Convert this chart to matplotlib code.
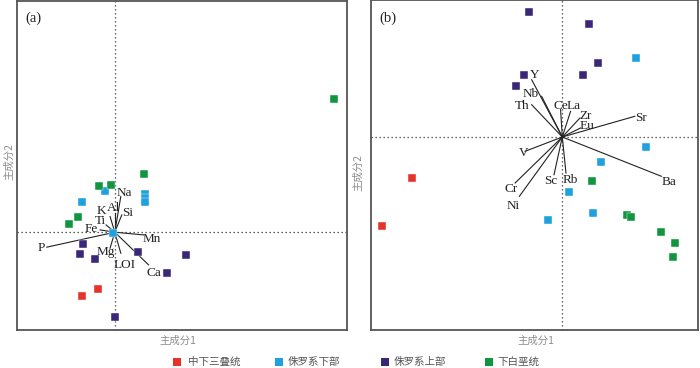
import matplotlib
matplotlib.use("Agg")
import matplotlib.pyplot as plt

plt.rcParams['font.family'] = ['Liberation Serif', 'Noto Sans CJK SC', 'DejaVu Sans']

# ---------------- colours ----------------
C_RED = '#e5332a'
C_BLUE = '#1ea1dc'
C_PURPLE = '#3b2778'
C_GREEN = '#11953f'

groups = ['中下三叠统', '侏罗系下部', '侏罗系上部', '下白垩统']
group_colors = [C_RED, C_BLUE, C_PURPLE, C_GREEN]

# ---------------- panel (a): major elements ----------------
a_red_x = [-0.17, -0.327]
a_red_y = [-0.57, -0.644]
a_blue_x = [-0.093, -0.323, 0.30, 0.297, 0.297, -0.013]
a_blue_y = [0.41, 0.303, 0.38, 0.34, 0.30, -0.007]
a_purple_x = [-0.313, -0.347, -0.20, 0.233, 0.716, 0.526, 0.007]
a_purple_y = [-0.123, -0.22, -0.267, -0.20, -0.233, -0.41, -0.85]
a_green_x = [2.186, 0.293, -0.153, -0.033, -0.363, -0.453]
a_green_y = [1.333, 0.58, 0.46, 0.473, 0.15, 0.087]

a_vars = ['P', 'Mn', 'Ca', 'LOI', 'Mg', 'Fe', 'Ti', 'K', 'Al', 'Na', 'Si']
a_vec_x = [-0.68, 0.287, 0.337, 0.06, -0.047, -0.147, -0.087, -0.047, 0.0, 0.06, 0.07]
a_vec_y = [-0.15, -0.027, -0.327, -0.21, -0.16, 0.023, 0.073, 0.157, 0.19, 0.357, 0.173]
a_lab_x = [-0.73, 0.37, 0.396, 0.103, -0.087, -0.24, -0.14, -0.135, -0.01, 0.093, 0.13]
a_lab_y = [-0.157, -0.07, -0.404, -0.327, -0.20, 0.036, 0.113, 0.213, 0.245, 0.39, 0.196]

# ---------------- panel (b): trace elements ----------------
b_red_x = [-1.503, -1.81]
b_red_y = [-0.407, -0.89]
b_blue_x = [0.737, 0.837, 0.383, 0.067, 0.31, -0.147]
b_blue_y = [0.79, -0.097, -0.25, -0.547, -0.76, -0.827]
b_purple_x = [-0.33, 0.27, 0.353, 0.207, -0.38, -0.463]
b_purple_y = [1.247, 1.13, 0.74, 0.62, 0.62, 0.507]
b_green_x = [0.30, 0.653, 0.693, 0.99, 1.133, 1.113]
b_green_y = [-0.44, -0.777, -0.803, -0.953, -1.06, -1.197]

b_vars = ['Y', 'Nb', 'Th', 'Ce', 'La', 'Zr', 'Eu', 'Sr', 'Ba', 'Rb', 'Sc', 'V', 'Cr', 'Ni']
b_vec_x = [-0.307, -0.207, -0.307, -0.017, 0.083, 0.177, 0.183, 0.727, 0.993, 0.037, -0.083, -0.373, -0.473, -0.43]
b_vec_y = [0.573, 0.407, 0.323, 0.273, 0.257, 0.19, 0.09, 0.207, -0.393, -0.36, -0.377, -0.143, -0.46, -0.593]
b_lab_x = [-0.28, -0.32, -0.406, -0.016, 0.117, 0.237, 0.25, 0.784, 1.07, 0.084, -0.116, -0.39, -0.516, -0.49]
b_lab_y = [0.623, 0.433, 0.313, 0.313, 0.306, 0.213, 0.106, 0.19, -0.454, -0.427, -0.444, -0.16, -0.52, -0.687]

W, H = 700.0, 368.0
fig = plt.figure(figsize=(W / 100, H / 100), dpi=100)
axa = fig.add_axes([16.7 / W, 38 / H, 330.3 / W, 329.3 / H])
axb = fig.add_axes([370.7 / W, 38 / H, 327.3 / W, 330 / H])

FRAME = '#555555'
AXLAB = '#8c8c8c'


def draw_panel(ax, pts, vars_, vx, vy, lx, ly, xlim, ylim, tag):
    ax.set_xlim(*xlim)
    ax.set_ylim(*ylim)
    ax.axhline(0, color='#333333', lw=0.9, ls=(0, (1, 2.2)), zorder=1)
    ax.axvline(0, color='#333333', lw=0.9, ls=(0, (1, 2.2)), zorder=1)
    for (xs, ys), col in zip(pts, group_colors):
        ax.scatter(xs, ys, marker='s', s=36, color=col, edgecolors='white',
                   linewidths=0.3, zorder=3)
    for name, dx, dy, tx, ty in zip(vars_, vx, vy, lx, ly):
        ax.plot([0, dx], [0, dy], color='#222222', lw=0.8, zorder=2)
        ax.text(tx, ty, name, ha='center', va='center', fontsize=9.5,
                color='#222222', zorder=4)
    ax.set_xticks([])
    ax.set_yticks([])
    for sp in ax.spines.values():
        sp.set_color(FRAME)
        sp.set_linewidth(1.3)
    ax.text(8.5 / 330, 1 - 18 / 330, tag, transform=ax.transAxes, fontsize=10.5,
            ha='left', va='center', color='#222222')


draw_panel(axa,
           [(a_red_x, a_red_y), (a_blue_x, a_blue_y),
            (a_purple_x, a_purple_y), (a_green_x, a_green_y)],
           a_vars, a_vec_x, a_vec_y, a_lab_x, a_lab_y,
           (-0.98, 2.32), (-0.98, 2.32), '(a)')
draw_panel(axb,
           [(b_red_x, b_red_y), (b_blue_x, b_blue_y),
            (b_purple_x, b_purple_y), (b_green_x, b_green_y)],
           b_vars, b_vec_x, b_vec_y, b_lab_x, b_lab_y,
           (-1.92, 1.36), (-1.93, 1.37), '(b)')

cjk = ['Noto Sans CJK SC', 'DejaVu Sans']
# axis labels
fig.text(178 / W, 1 - 341 / H, '主成分1', ha='center', va='center',
         fontsize=7.5, color=AXLAB, family=cjk)
fig.text(536 / W, 1 - 341 / H, '主成分1', ha='center', va='center',
         fontsize=7.5, color=AXLAB, family=cjk)
fig.text(9 / W, 1 - 161 / H, '主成分2', ha='center', va='center',
         fontsize=7.5, color=AXLAB, family=cjk, rotation=90)
fig.text(358 / W, 1 - 172 / H, '主成分2', ha='center', va='center',
         fontsize=7.5, color=AXLAB, family=cjk, rotation=90)

# legend (manual placement)
leg_sq_x = [177, 279, 385, 489]
leg_tx_x = [188, 288, 394, 497]
leg_y = 362
for sx, tx, col, lab in zip(leg_sq_x, leg_tx_x, group_colors, groups):
    fig.add_artist(plt.Rectangle(((sx - 4) / W, 1 - (leg_y + 4) / H), 8 / W, 8 / H,
                                 transform=fig.transFigure, facecolor=col,
                                 edgecolor='none'))
    fig.text(tx / W, 1 - leg_y / H, lab,
             ha='left', va='center', fontsize=7.6, color='#555555', family=cjk)

fig.savefig('out.png', dpi=100)
